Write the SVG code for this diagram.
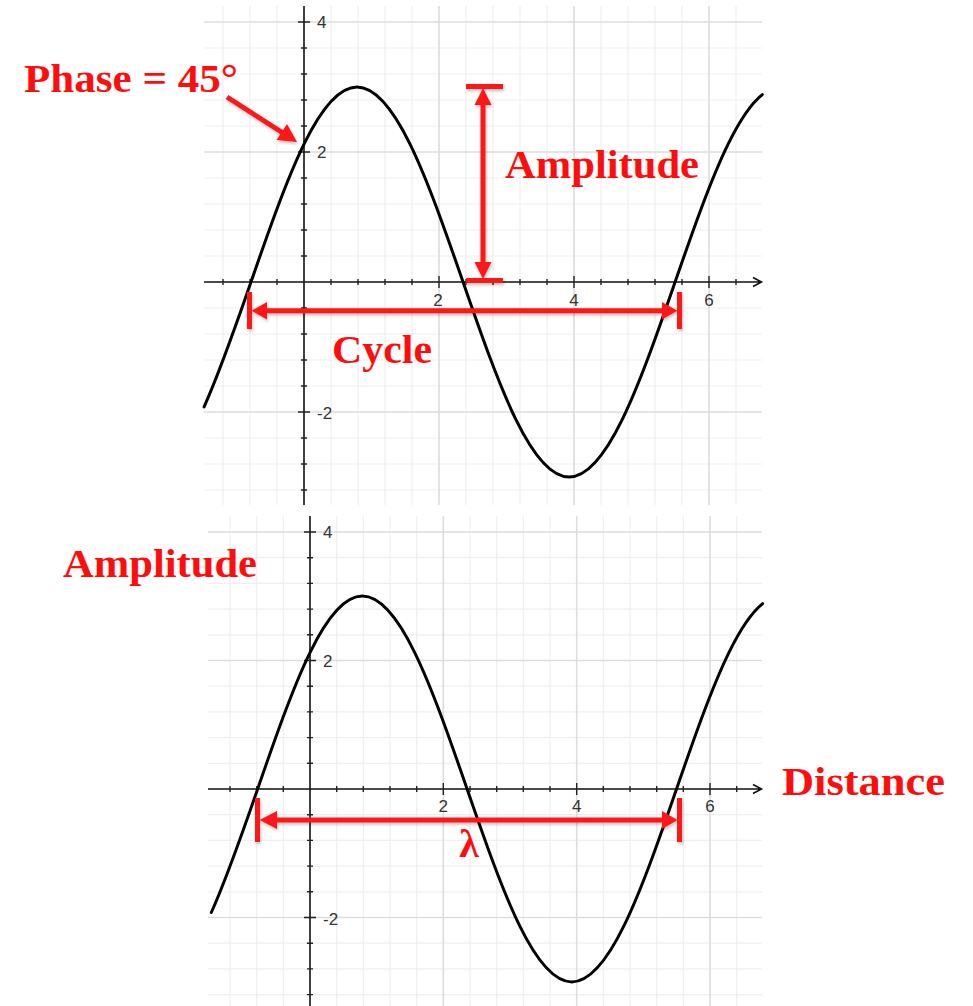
<svg xmlns="http://www.w3.org/2000/svg" width="973" height="1006" viewBox="0 0 973 1006">
<style>
.minor{stroke:#efefef;stroke-width:1.2;fill:none}
.major{stroke:#dddddd;stroke-width:1.6;fill:none}
.axis{stroke:#111;stroke-width:1.6;fill:none}
.tick{stroke:#222;stroke-width:1.4;fill:none}
.curve{stroke:#000;stroke-width:3;fill:none;stroke-linecap:round}
.num{font-family:"Liberation Sans",Arial,sans-serif;font-size:17px;fill:#333}
.lbl{font-family:"Liberation Serif","Times New Roman",serif;font-weight:bold;font-size:40px;fill:#ff0d0d}
.red{fill:#ff1414}
.redline{stroke:#ff1414;stroke-width:5;fill:none}
</style>
<defs>
<filter id="sh" x="-20%" y="-20%" width="140%" height="140%">
<feDropShadow dx="1" dy="2" stdDeviation="1.5" flood-color="#000" flood-opacity="0.25"/>
</filter>
<path id="wave" d="M204.08 406.86C219.72 372.16 235.35 327.18 250.99 282C268.66 230.95 286.33 180.21 304 144.11C321.67 108.01 339.35 87 357.02 87C374.69 87 392.36 108.01 410.03 144.11C427.7 180.21 445.38 230.95 463.05 282C480.72 333.05 498.39 383.79 516.06 419.89C533.73 455.99 551.4 477 569.07 477C586.74 477 604.41 455.99 622.08 419.89C639.75 383.79 657.43 333.05 675.1 282C692.77 230.95 710.44 180.21 728.11 144.11C739.5 120.83 750.91 103.62 762.3 94.55"/>
</defs>
<rect width="973" height="1006" fill="#fff"/>

<g id="graph-top">
<path class="minor" d="M223 6V505M250 6V505M277 6V505M331 6V505M358 6V505M385 6V505M412 6V505M466 6V505M493 6V505M520 6V505M547 6V505M601 6V505M628 6V505M655 6V505M682 6V505M736 6V505M204 48H762M204 74H762M204 100H762M204 126H762M204 178H762M204 204H762M204 230H762M204 256H762M204 308H762M204 334H762M204 360H762M204 386H762M204 438H762M204 464H762M204 490H762"/>
<path class="major" d="M439 6V505M574 6V505M709 6V505M204 22H762M204 152H762M204 412H762"/>
<path class="axis" d="M204 282H761M753 277.5L761.5 282L753 286.5M304 6V505"/>
<path class="tick" d="M223 279v6M250 279v6M277 279v6M331 279v6M358 279v6M385 279v6M412 279v6M466 279v6M493 279v6M520 279v6M547 279v6M601 279v6M628 279v6M655 279v6M682 279v6M736 279v6M439 276v12M574 276v12M709 276v12M301 48h6M301 74h6M301 100h6M301 126h6M301 178h6M301 204h6M301 230h6M301 256h6M301 308h6M301 334h6M301 360h6M301 386h6M301 438h6M301 464h6M301 490h6M298 22h12M298 152h12M298 412h12"/>
<text class="num" x="317" y="28">4</text>
<text class="num" x="317" y="158">2</text>
<text class="num" x="317" y="419">-2</text>
<text class="num" x="438" y="306" text-anchor="middle">2</text>
<text class="num" x="574" y="306" text-anchor="middle">4</text>
<text class="num" x="709" y="306" text-anchor="middle">6</text>
<use href="#wave" class="curve"/>
</g>

<g id="graph-bottom">
<path class="minor" d="M230 516V1006M256.7 516V1006M283.3 516V1006M336.7 516V1006M363.3 516V1006M390 516V1006M416.7 516V1006M470 516V1006M496.7 516V1006M523.3 516V1006M550 516V1006M603.3 516V1006M630 516V1006M656.7 516V1006M683.3 516V1006M736.7 516V1006M208 557.7H762M208 583.4H762M208 609.1H762M208 634.8H762M208 686.2H762M208 711.9H762M208 737.6H762M208 763.3H762M208 814.7H762M208 840.4H762M208 866.1H762M208 891.8H762M208 943.2H762M208 968.9H762M208 994.6H762"/>
<path class="major" d="M443.3 516V1006M576.7 516V1006M710 516V1006M208 532H762M208 660.5H762M208 917.5H762"/>
<path class="axis" d="M208 789H761M753 784.5L761.5 789L753 793.5M310 516V1006"/>
<path class="tick" d="M230 786v6M256.7 786v6M283.3 786v6M336.7 786v6M363.3 786v6M390 786v6M416.7 786v6M470 786v6M496.7 786v6M523.3 786v6M550 786v6M603.3 786v6M630 786v6M656.7 786v6M683.3 786v6M736.7 786v6M443.3 783v12M576.7 783v12M710 783v12M307 557.7h6M307 583.4h6M307 609.1h6M307 634.8h6M307 686.2h6M307 711.9h6M307 737.6h6M307 763.3h6M307 814.7h6M307 840.4h6M307 866.1h6M307 891.8h6M307 943.2h6M307 968.9h6M307 994.6h6M304 532h12M304 660.5h12M304 917.5h12"/>
<text class="num" x="323" y="538">4</text>
<text class="num" x="323" y="667">2</text>
<text class="num" x="323" y="925">-2</text>
<text class="num" x="443.3" y="812" text-anchor="middle">2</text>
<text class="num" x="576.7" y="812" text-anchor="middle">4</text>
<text class="num" x="710" y="812" text-anchor="middle">6</text>
<use href="#wave" class="curve" transform="translate(310 789) scale(0.9877 0.9892) translate(-304 -282)"/>
</g>

<g id="connectors" filter="url(#sh)">
<g id="phase-arrow">
<path class="redline" d="M227 97L283 133"/>
<path class="red" d="M297 142L276.5 140L287 124Z"/>
</g>
<g id="amplitude-arrow">
<rect class="red" x="466" y="84" width="37" height="5"/>
<rect class="red" x="466" y="278" width="37" height="5"/>
<path class="redline" d="M483 100V267"/>
<path class="red" d="M483 88L474.5 105H491.5Z"/>
<path class="red" d="M483 279L474.5 262H491.5Z"/>
</g>
<g id="cycle-arrow">
<rect class="red" x="247" y="292" width="5" height="37"/>
<rect class="red" x="677" y="292" width="5" height="37"/>
<path class="redline" d="M263 310.7H666"/>
<path class="red" d="M251.5 310.7L267 302V319.4Z"/>
<path class="red" d="M677.5 310.7L662 302V319.4Z"/>
</g>
<g id="lambda-arrow">
<rect class="red" x="255" y="798" width="5" height="44"/>
<rect class="red" x="677" y="798" width="5" height="44"/>
<path class="redline" d="M272 820H666"/>
<path class="red" d="M259.5 820L277 811V829Z"/>
<path class="red" d="M677.5 820L662 811V829Z"/>
</g>
</g>

<g id="labels">
<text id="phase-label" class="lbl" x="24" y="92" textLength="214" lengthAdjust="spacingAndGlyphs">Phase = 45°</text>
<text id="amplitude-label-top" class="lbl" x="505" y="178" textLength="194" lengthAdjust="spacingAndGlyphs">Amplitude</text>
<text id="cycle-label" class="lbl" x="332" y="363" textLength="100" lengthAdjust="spacingAndGlyphs">Cycle</text>
<text id="amplitude-label-bottom" class="lbl" x="63" y="577" textLength="194" lengthAdjust="spacingAndGlyphs">Amplitude</text>
<text id="distance-label" class="lbl" x="782" y="795" textLength="163" lengthAdjust="spacingAndGlyphs">Distance</text>
<text id="lambda-label" class="lbl" x="469" y="857" font-size="36" text-anchor="middle">λ</text>
</g>
</svg>
